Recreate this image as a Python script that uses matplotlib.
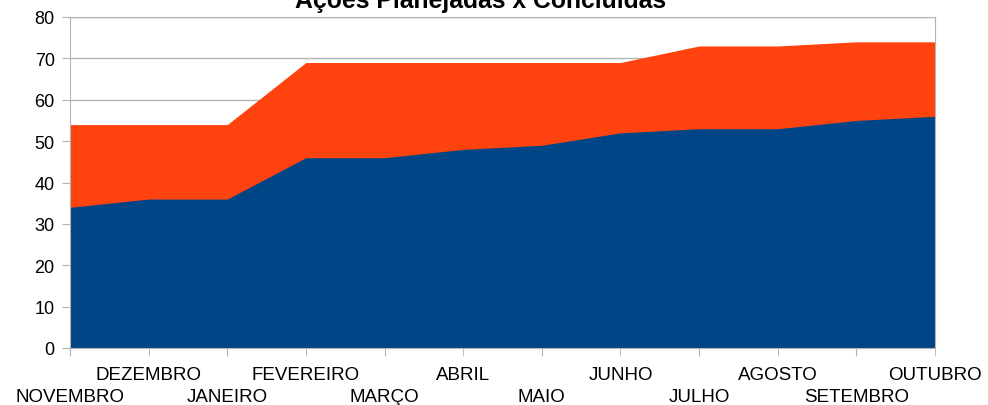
import matplotlib
matplotlib.use("Agg")
import matplotlib.pyplot as plt
import numpy as np

months = ["NOVEMBRO", "DEZEMBRO", "JANEIRO", "FEVEREIRO", "MARÇO", "ABRIL",
          "MAIO", "JUNHO", "JULHO", "AGOSTO", "SETEMBRO", "OUTUBRO"]
planejadas = [54, 54, 54, 69, 69, 69, 69, 69, 73, 73, 74, 74]
concluidas = [34, 36, 36, 46, 46, 48, 49, 52, 53, 53, 55, 56]
yticks = [0, 10, 20, 30, 40, 50, 60, 70, 80]
title = "Ações Planejadas x Concluídas"

plt.rcParams['font.family'] = ['Liberation Sans', 'DejaVu Sans']

fig = plt.figure(figsize=(9.88, 4.06), dpi=100)
ax = fig.add_axes([70/988, 57/406, 865/988, 331/406])

x = np.arange(len(months))
ax.fill_between(x, 0, planejadas, color="#ff420e", linewidth=0, zorder=2)
ax.fill_between(x, 0, concluidas, color="#004586", linewidth=0, zorder=3)

ax.set_xlim(0, len(months) - 1)
ax.set_ylim(0, 80)
ax.set_yticks(yticks)
ax.yaxis.grid(True, color="#b3b3b3", linewidth=1, zorder=1)
ax.set_axisbelow(True)

# lower row (even index) on major ticks, upper row (odd index) on minor ticks
ax.set_xticks(x[::2])
ax.set_xticklabels(months[::2], fontsize=13.5)
ax.set_xticks(x[1::2], minor=True)
ax.set_xticklabels(months[1::2], minor=True, fontsize=13.5)
ax.tick_params(axis='x', which='major', length=6, color="#b3b3b3", pad=22.5)
ax.tick_params(axis='x', which='minor', length=6, color="#b3b3b3", pad=7)
ax.tick_params(axis='y', labelsize=13, length=6, color="#b3b3b3", pad=5)

for s in ['top', 'right', 'left', 'bottom']:
    ax.spines[s].set_color("#b3b3b3")
    ax.spines[s].set_zorder(4)
ax.spines['top'].set_zorder(1)

fig.text(481/988, 1 - 8/406, title, ha='center', va='baseline',
         fontsize=17.8, fontweight='bold')

fig.savefig("out.png", dpi=100)
